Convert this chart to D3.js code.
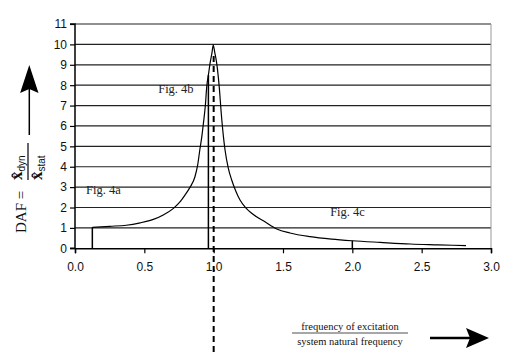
<!DOCTYPE html>
<html><head><meta charset="utf-8">
<script src="https://cdn.jsdelivr.net/npm/d3@7"></script>
<style>body{margin:0;background:#fff}svg{display:block}</style>
</head><body>
<svg id="c" width="510" height="358"></svg>
<script>
// DAF curve points
const ratio = [0.125,0.25,0.37,0.47,0.565,0.64,0.71,0.76,0.793,0.83,0.865,0.885,0.90,0.915,0.926,0.94,0.95,0.962,0.974,0.988,0.997,1.008,1.022,1.04,1.055,1.07,1.082,1.105,1.13,1.16,1.19,1.23,1.274,1.37,1.455,1.55,1.695,1.85,2.0,2.2,2.42,2.62,2.82];
const daf   = [1.03,1.08,1.13,1.25,1.42,1.65,1.96,2.3,2.61,3.0,3.51,4.1,4.82,5.5,6.13,7.0,7.93,8.5,9.07,9.6,9.97,9.6,9.07,7.93,6.6,5.5,4.82,3.95,3.35,2.8,2.37,2.0,1.72,1.3,0.95,0.75,0.57,0.45,0.37,0.29,0.21,0.17,0.13];
const markX = [0.125, 0.962, 2.0];
const markY = [1.03, 8.5, 0.37];
const yTicks = d3.range(0, 12);
const xTicks = [0, 0.5, 1.0, 1.5, 2.0, 2.5, 3.0];
const figLabels = ["Fig. 4a", "Fig. 4b", "Fig. 4c"];
const figLabelX = [0.08, 0.6, 1.84];
const figLabelY = [2.65, 7.6, 1.6];

const svg = d3.select("#c");
const x = d3.scaleLinear().domain([0, 3]).range([75, 491]);
const y = d3.scaleLinear().domain([0, 11]).range([248.3, 24]);

// gridlines
svg.append("g").selectAll("line").data(yTicks.filter(d => d > 0)).join("line")
  .attr("x1", x(0)).attr("x2", x(3)).attr("y1", d => y(d)).attr("y2", d => y(d))
  .attr("stroke", "#222").attr("stroke-width", 1.2);
// right border
svg.append("line").attr("x1", x(3)).attr("x2", x(3)).attr("y1", y(11)).attr("y2", y(0))
  .attr("stroke", "#999").attr("stroke-width", 1);

// axes
const yAxis = d3.axisLeft(y).tickValues(yTicks).tickFormat(d3.format("d")).tickSize(5).tickPadding(3);
const gy = svg.append("g").attr("transform", `translate(${x(0)},0)`).call(yAxis);
const xAxis = d3.axisBottom(x).tickValues(xTicks).tickFormat(d3.format(".1f")).tickSize(5).tickPadding(9);
const gx = svg.append("g").attr("transform", `translate(0,${y(0)})`).call(xAxis);
[gx, gy].forEach(g => {
  g.select(".domain").attr("stroke", "#000").attr("stroke-width", 1.5);
  g.selectAll(".tick line").attr("stroke", "#000").attr("stroke-width", 1.2);
  g.selectAll("text").attr("font-family", "Liberation Sans, Arial, sans-serif").attr("font-size", 12).attr("fill", "#111");
});
gy.select(".domain").attr("d", `M-5,${y(11)}H0V${y(0)}H-5`);

// marker lines
svg.append("g").selectAll("line").data(markX).join("line")
  .attr("x1", d => x(d)).attr("x2", d => x(d))
  .attr("y1", y(0)).attr("y2", (d, i) => y(markY[i]))
  .attr("stroke", "#000").attr("stroke-width", 1.5);

// curve
const pts = ratio.map((r, i) => [r, daf[i]]);
svg.append("path").datum(pts)
  .attr("d", d3.line().x(d => x(d[0])).y(d => y(d[1])).curve(d3.curveMonotoneX))
  .attr("fill", "none").attr("stroke", "#000").attr("stroke-width", 1.2);

// dashed resonance line
svg.append("line").attr("x1", x(1.0)).attr("x2", x(1.0)).attr("y1", 56).attr("y2", 356)
  .attr("stroke", "#000").attr("stroke-width", 2).attr("stroke-dasharray", "6,4");

// fig labels
svg.append("g").selectAll("text").data(figLabels).join("text")
  .attr("x", (d, i) => x(figLabelX[i])).attr("y", (d, i) => y(figLabelY[i]))
  .attr("font-family", "Liberation Serif, Times New Roman, serif").attr("font-size", 12.5)
  .attr("fill", "#222").text(d => d);

// y label
const yl = svg.append("g").attr("font-family", "Liberation Serif, Times New Roman, serif").attr("fill", "#111");
yl.append("text").attr("transform", "translate(26,233) rotate(-90)").attr("font-size", 15).text("DAF =");
const num = yl.append("text").attr("transform", "translate(22,180) rotate(-90)").attr("font-size", 17).attr("font-weight", "bold");
num.append("tspan").text("x\u0302");
num.append("tspan").attr("font-size", 10).attr("font-weight", "normal").attr("font-family", "Liberation Sans, Arial, sans-serif").attr("dy", 3).text("dyn");
const den = yl.append("text").attr("transform", "translate(42,180) rotate(-90)").attr("font-size", 17).attr("font-weight", "bold");
den.append("tspan").text("x\u0302");
den.append("tspan").attr("font-size", 10).attr("font-weight", "normal").attr("font-family", "Liberation Sans, Arial, sans-serif").attr("dy", 3).text("stat");
yl.append("line").attr("x1", 28).attr("x2", 28).attr("y1", 143).attr("y2", 180).attr("stroke", "#000").attr("stroke-width", 1.2);
// up arrow
svg.append("line").attr("x1", 29.3).attr("x2", 29.3).attr("y1", 135).attr("y2", 85).attr("stroke", "#000").attr("stroke-width", 1.5);
svg.append("path").attr("d", "M29.3,65 L38.5,93 L29.3,89 L20.1,93 Z").attr("fill", "#000");

// x label
const xl = svg.append("g").attr("font-family", "Liberation Serif, Times New Roman, serif").attr("fill", "#111").attr("text-anchor", "middle");
xl.append("text").attr("x", 350).attr("y", 330).attr("font-size", 10.5).text("frequency of excitation");
xl.append("line").attr("x1", 292).attr("x2", 408).attr("y1", 333).attr("y2", 333).attr("stroke", "#222").attr("stroke-width", 0.8);
xl.append("text").attr("x", 350).attr("y", 345).attr("font-size", 10.5).text("system natural frequency");
svg.append("line").attr("x1", 430).attr("x2", 475).attr("y1", 338).attr("y2", 338).attr("stroke", "#000").attr("stroke-width", 2.5);
svg.append("path").attr("d", "M489,338 L466,328 L470,338 L466,348 Z").attr("fill", "#000");
</script>
</body></html>
